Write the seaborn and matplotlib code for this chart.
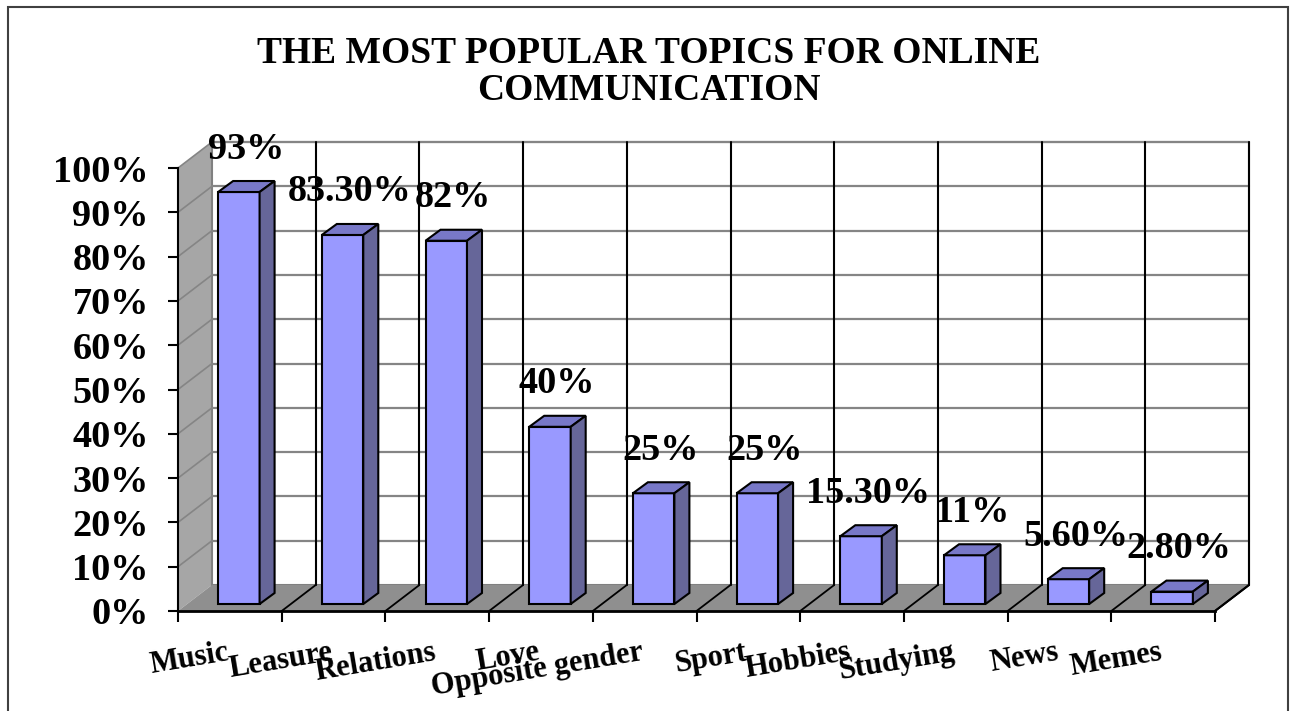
import matplotlib
matplotlib.use("Agg")
import matplotlib.pyplot as plt
import seaborn as sns
import pandas as pd
from matplotlib.patches import Polygon, Rectangle

# Survey results
topics = ["Music", "Leasure", "Relations", "Love", "Opposite gender",
          "Sport", "Hobbies", "Studying", "News", "Memes"]
shares = [93, 83.3, 82, 40, 25, 25, 15.3, 11, 5.6, 2.8]
value_labels = ["93%", "83.30%", "82%", "40%", "25%", "25%",
                "15.30%", "11%", "5.60%", "2.80%"]
y_ticks = list(range(0, 101, 10))
y_tick_labels = [f"{t}%" for t in y_ticks]

sns.set_style("white")
plt.rcParams["font.family"] = ["Liberation Serif", "DejaVu Serif"]
plt.rcParams["font.weight"] = "bold"
plt.rcParams["text.color"] = "black"
plt.rcParams["xtick.color"] = "black"
plt.rcParams["ytick.color"] = "black"

W, H = 1298, 711
fig = plt.figure(figsize=(W / 100, H / 100), dpi=100)
ax = fig.add_axes([178 / W, 1 - 611 / H, (1215 - 178) / W, (611 - 168) / H])
n = len(topics)
ax.set_xlim(-0.5, n - 0.5)
ax.set_ylim(0, 100)

# pixel -> data conversion for the pseudo-3D depth offsets
px_x = n / (1215 - 178)
px_y = 100 / (611 - 168)
depth_x, depth_y = 34 * px_x, 26 * px_y     # full wall depth
front_x, front_y = 9 * px_x, 7 * px_y       # bar front plane
bar_dx, bar_dy = 15 * px_x, 11 * px_y       # bar depth

x0, x1 = -0.5, n - 0.5
common = dict(clip_on=False)

# side wall
ax.add_patch(Polygon([(x0, 0), (x0 + depth_x, depth_y), (x0 + depth_x, 100 + depth_y),
                      (x0, 100)], closed=True, facecolor="#a6a6a6", edgecolor="none",
                     zorder=0.5, **common))
# back wall
ax.add_patch(Rectangle((x0 + depth_x, depth_y), n, 100, facecolor="white",
                       edgecolor="#808080", lw=1.5, zorder=0.5, **common))
# floor
ax.add_patch(Polygon([(x0, 0), (x1, 0), (x1 + depth_x, depth_y), (x0 + depth_x, depth_y)],
                     closed=True, facecolor="#8f8f8f", edgecolor="none", zorder=0.6, **common))

# gridlines on the walls
for t in y_ticks[1:]:
    ax.plot([x0 + depth_x, x1 + depth_x], [t + depth_y, t + depth_y], color="#858585",
            lw=1.6, zorder=0.7, **common)
    ax.plot([x0, x0 + depth_x], [t, t + depth_y], color="#858585", lw=1.2, zorder=0.7, **common)
# category dividers on back wall and floor
for k in range(1, n + 1):
    bx = x0 + k
    ax.plot([bx + depth_x, bx + depth_x], [depth_y, 100 + depth_y], color="black",
            lw=1.5, zorder=0.7, **common)
    ax.plot([bx, bx + depth_x], [0, depth_y], color="black", lw=1.3, zorder=0.7, **common)

# bars
df = pd.DataFrame({"topic": topics, "share": shares})
sns.barplot(data=df, x="topic", y="share", order=topics, color="#9999ff", width=0.4,
            saturation=1, edgecolor="black", linewidth=1.5, ax=ax, zorder=3)
ax.set_xlim(-0.5, n - 0.5)
ax.set_ylim(0, 100)
for p in ax.patches[len(ax.patches) - n:]:
    if not isinstance(p, Rectangle):
        continue
    bx, bw, bh = p.get_x() + front_x, p.get_width(), p.get_height()
    p.set_x(bx)
    p.set_y(front_y)
    p.set_clip_on(False)
    top = front_y + bh
    ax.add_patch(Polygon([(bx, top), (bx + bw, top), (bx + bw + bar_dx, top + bar_dy),
                          (bx + bar_dx, top + bar_dy)], closed=True, facecolor="#7878c8",
                         edgecolor="black", lw=1.5, zorder=3, **common))
    ax.add_patch(Polygon([(bx + bw, front_y), (bx + bw + bar_dx, front_y + bar_dy),
                          (bx + bw + bar_dx, top + bar_dy), (bx + bw, top)], closed=True,
                         facecolor="#666699", edgecolor="black", lw=1.5, zorder=3, **common))

# value labels
for i, (v, lab) in enumerate(zip(shares, value_labels)):
    ax.text(i + front_x + 7 * px_x, v + front_y + 43 * px_y, lab, ha="center", va="center",
            fontsize=27.5, fontweight="bold", zorder=5, clip_on=False)

# axes
for s in ["top", "right"]:
    ax.spines[s].set_visible(False)
ax.spines["left"].set_color("black")
ax.spines["bottom"].set_color("black")
ax.spines["left"].set_linewidth(1.5)
ax.spines["bottom"].set_linewidth(2)
ax.plot([x1, x1 + depth_x], [0, depth_y], color="black", lw=1.5, zorder=0.8, **common)
ax.set_yticks(y_ticks, labels=y_tick_labels, fontsize=27.5, fontweight="bold")
ax.tick_params(axis="y", length=7, width=1.5, color="black", labelcolor="black", pad=14,
               left=True)
ax.set_xticks([x0 + k for k in range(n + 1)], minor=True)
ax.tick_params(axis="x", which="minor", length=8, width=1.5, color="black", bottom=True)
ax.set_xticks(range(n), labels=topics, fontsize=22, fontweight="bold", rotation=9.5,
              ha="right", rotation_mode="anchor", va="baseline")
ax.tick_params(axis="x", which="major", length=0, pad=35, labelcolor="black")
ax.set_xlabel("")
ax.set_ylabel("")
ax.patch.set_alpha(0)

fig.text(0.5, 1 - 72 / H, "THE MOST POPULAR TOPICS FOR ONLINE\nCOMMUNICATION", ha="center",
         va="center", fontsize=27, fontweight="bold", linespacing=1.1, color="black")

# outer frame
fig.patches.append(Rectangle((8 / W, -0.1), (1288 - 8) / W, 1.1 - 7 / H,
                             transform=fig.transFigure, fill=False, edgecolor="#404040",
                             lw=1.5))

fig.savefig("out.png", dpi=100)
